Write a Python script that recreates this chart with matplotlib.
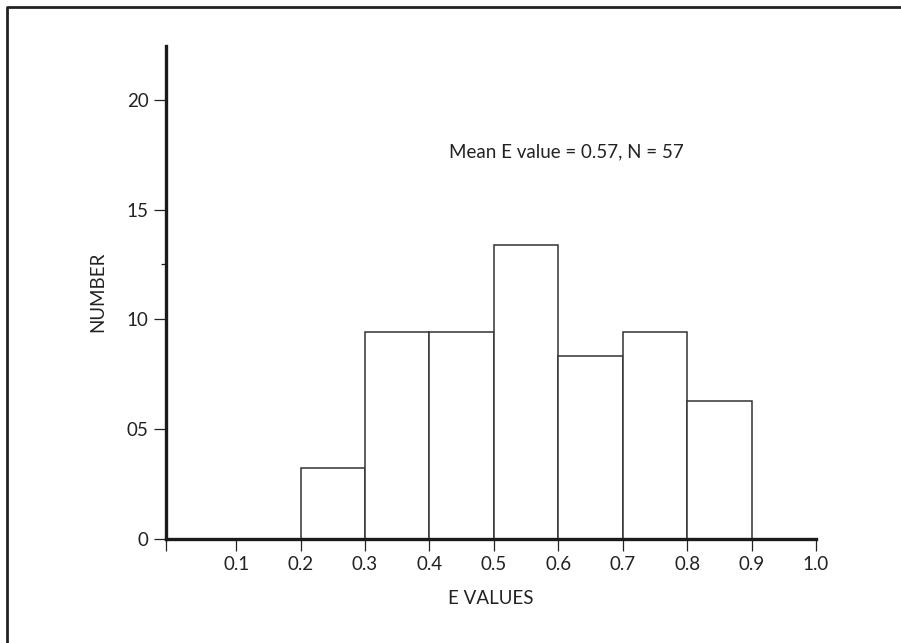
import matplotlib
matplotlib.use("Agg")
import matplotlib.pyplot as plt
from matplotlib.lines import Line2D

plt.rcParams["font.family"] = ["Lato", "DejaVu Sans"]

# histogram of E values (bin left edges, bar heights as drawn)
bin_left = [0.2, 0.3, 0.4, 0.5, 0.6, 0.7, 0.8]
counts = [3.2, 9.4, 9.4, 13.4, 8.3, 9.4, 6.25]
bin_width = 0.1

xtick_vals = [0.1, 0.2, 0.3, 0.4, 0.5, 0.6, 0.7, 0.8, 0.9, 1.0]
xtick_labels = ["0.1", "0.2", "0.3", "0.4", "0.5", "0.6", "0.7", "0.8", "0.9", "1.0"]
ytick_vals = [0, 5, 10, 15, 20]
ytick_labels = ["0", "05", "10", "15", "20"]
note = "Mean E value = 0.57, N = 57"

FS = 13.5
INK = "#222222"

W, H = 901, 643
fig = plt.figure(figsize=(W / 100, H / 100), dpi=100)
ax = fig.add_axes([166 / W, (H - 538.5) / H, (816 - 166) / W, (538.5 - 46) / H])

ax.bar(bin_left, counts, width=bin_width, align="edge", facecolor="white",
       edgecolor="#333333", linewidth=1.1, zorder=2)

x0 = -0.009
ax.set_xlim(x0, 1.0)
ax.set_ylim(0, 22.46)

ax.set_xticks([x0] + xtick_vals)
ax.set_xticklabels([""] + xtick_labels)
ax.set_yticks(ytick_vals)
ax.set_yticklabels(ytick_labels)
ax.set_yticks([12.5], minor=True)

ax.tick_params(axis="both", which="major", direction="out", length=8.5, width=0.9,
               color=INK, labelsize=FS, labelcolor=INK, pad=4)
ax.tick_params(axis="y", which="minor", direction="out", length=3.5, width=0.9,
               color=INK)

for s in ["top", "right"]:
    ax.spines[s].set_visible(False)
for s in ["left", "bottom"]:
    ax.spines[s].set_linewidth(2.4)
    ax.spines[s].set_color("#1a1a1a")
    ax.spines[s].set_zorder(3)

ax.set_xlabel("E VALUES", fontsize=FS, color=INK, labelpad=12)
ax.set_ylabel("NUMBER", fontsize=FS, color=INK, labelpad=15)

ax.text(0.612, 17.63, note, ha="center", va="center", fontsize=FS, color=INK)

# border of the original figure box (top and left edges visible)
fig.add_artist(Line2D([7 / W, 7 / W, 1.0], [0.0, 1 - 7 / H, 1 - 7 / H],
                      transform=fig.transFigure, color=INK, linewidth=2))

fig.savefig("out.png", dpi=100)
